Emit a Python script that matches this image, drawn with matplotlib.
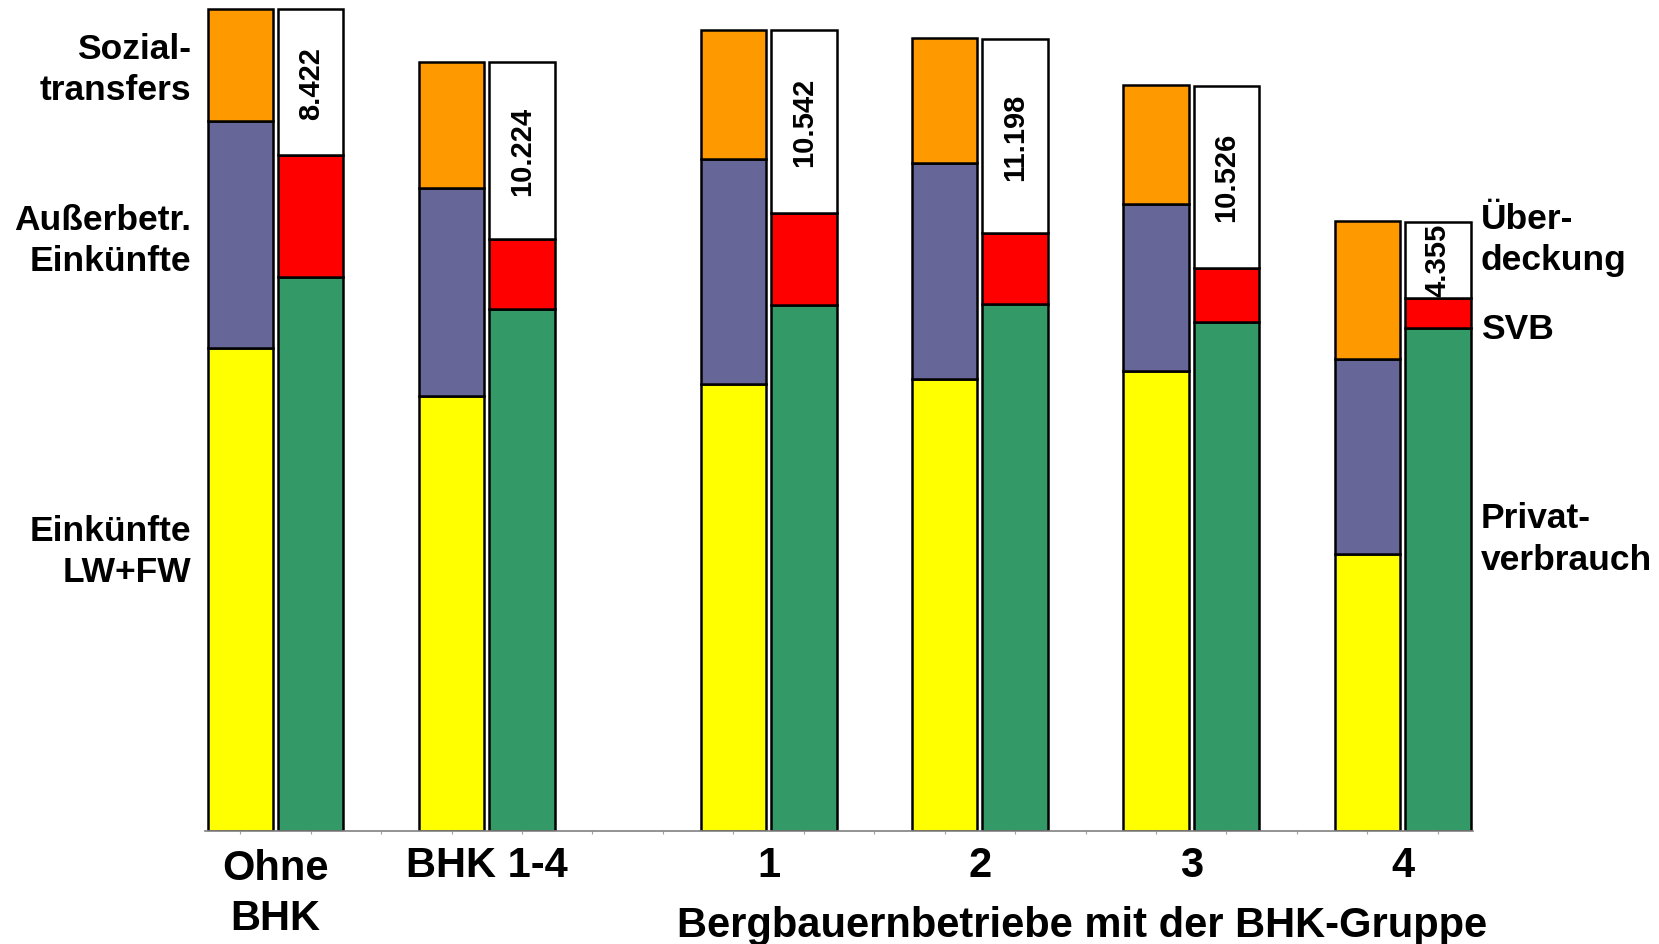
import matplotlib.pyplot as plt
import matplotlib.transforms as mtransforms
import numpy as np

plt.rcParams['font.family'] = ['Liberation Sans', 'DejaVu Sans']

# Gruppen (Euro je Betrieb)
groups = ['Ohne\nBHK', 'BHK 1-4', '1', '2', '3', '4']
# linke Säule: Einkommen
einkuenfte_lw_fw = [27880, 25080, 25750, 26060, 26550, 15990]
ausserbetr = [13050, 12020, 13000, 12450, 9580, 11230]
sozialtransfers = [6470, 7260, 7450, 7200, 6900, 7930]
# rechte Säule: Verwendung
privatverbrauch = [31960, 30090, 30330, 30390, 29350, 28990]
svb = [7015, 4030, 5310, 4090, 3110, 1770]
ueberdeckung = [8422, 10224, 10542, 11198, 10526, 4355]
ueberdeckung_labels = ['8.422', '10.224', '10.542', '11.198', '10.526', '4.355']

# slot positions of the bar pairs (empty slots in between)
left_pos = np.array([0, 3, 7, 10, 13, 16])
right_pos = left_pos + 1

col_yellow = '#FFFF00'
col_purple = '#666699'
col_orange = '#FF9900'
col_green = '#339966'
col_red = '#FF0000'

fig = plt.figure(figsize=(16.59, 9.45), dpi=100)
ax = fig.add_axes([0.1236, 0.1196, 0.7643, 0.8804])

w = 0.93
kw = dict(width=w, edgecolor='black', linewidth=1.8)

# income stack
ax.bar(left_pos, einkuenfte_lw_fw, color=col_yellow, **kw)
ax.bar(left_pos, ausserbetr, bottom=einkuenfte_lw_fw, color=col_purple, **kw)
bottom_soz = np.array(einkuenfte_lw_fw) + np.array(ausserbetr)
ax.bar(left_pos, sozialtransfers, bottom=bottom_soz, color=col_orange, **kw)

# spending stack
ax.bar(right_pos, privatverbrauch, color=col_green, **kw)
ax.bar(right_pos, svb, bottom=privatverbrauch, color=col_red, **kw)
bottom_ue = np.array(privatverbrauch) + np.array(svb)
ax.bar(right_pos, ueberdeckung, bottom=bottom_ue, color='white', **kw)

# rotated values in the Überdeckung box
for x, b, h, lab in zip(right_pos, bottom_ue, ueberdeckung, ueberdeckung_labels):
    ax.text(x, b + h / 2, lab, rotation=90, ha='center', va='center',
            fontsize=21, fontweight='bold')

ax.set_xlim(-0.5, 17.5)
ax.set_ylim(0, 47980)
ax.set_yticks([])
ax.set_xticks(np.arange(18))
ax.set_xticklabels([])
ax.tick_params(axis='x', length=2, width=0.8, color='#A0A0A0', direction='out')
for s in ['left', 'right', 'top']:
    ax.spines[s].set_visible(False)
ax.spines['bottom'].set_color('#808080')
ax.spines['bottom'].set_linewidth(1.2)

# group labels below the axis
trans = mtransforms.blended_transform_factory(ax.transData, fig.transFigure)
for i, g in enumerate(groups):
    xc = left_pos[i] + 0.5
    if '\n' in g:
        ax.text(xc, 0.054, g, transform=trans, ha='center', va='center',
                fontsize=30, fontweight='bold', linespacing=1.3)
    else:
        ax.text(xc, 0.0836, g, transform=trans, ha='center', va='center',
                fontsize=30, fontweight='bold')

fig.text(0.652, 0.020, 'Bergbauernbetriebe mit der BHK-Gruppe', ha='center',
         va='center', fontsize=30, fontweight='bold')

# segment names left
lab_kw = dict(fontsize=25.5, fontweight='bold', va='center', linespacing=1.32)
fig.text(0.1151, 0.926, 'Sozial-\ntransfers', ha='right', **lab_kw)
fig.text(0.1151, 0.745, 'Außerbetr.\nEinkünfte', ha='right', **lab_kw)
fig.text(0.1151, 0.416, 'Einkünfte\nLW+FW', ha='right', **lab_kw)

# segment names right
fig.text(0.8925, 0.746, 'Über-\ndeckung', ha='left', **lab_kw)
fig.text(0.8925, 0.651, 'SVB', ha='left', **lab_kw)
fig.text(0.8925, 0.429, 'Privat-\nverbrauch', ha='left', **lab_kw)

fig.savefig('out.png', dpi=100)
